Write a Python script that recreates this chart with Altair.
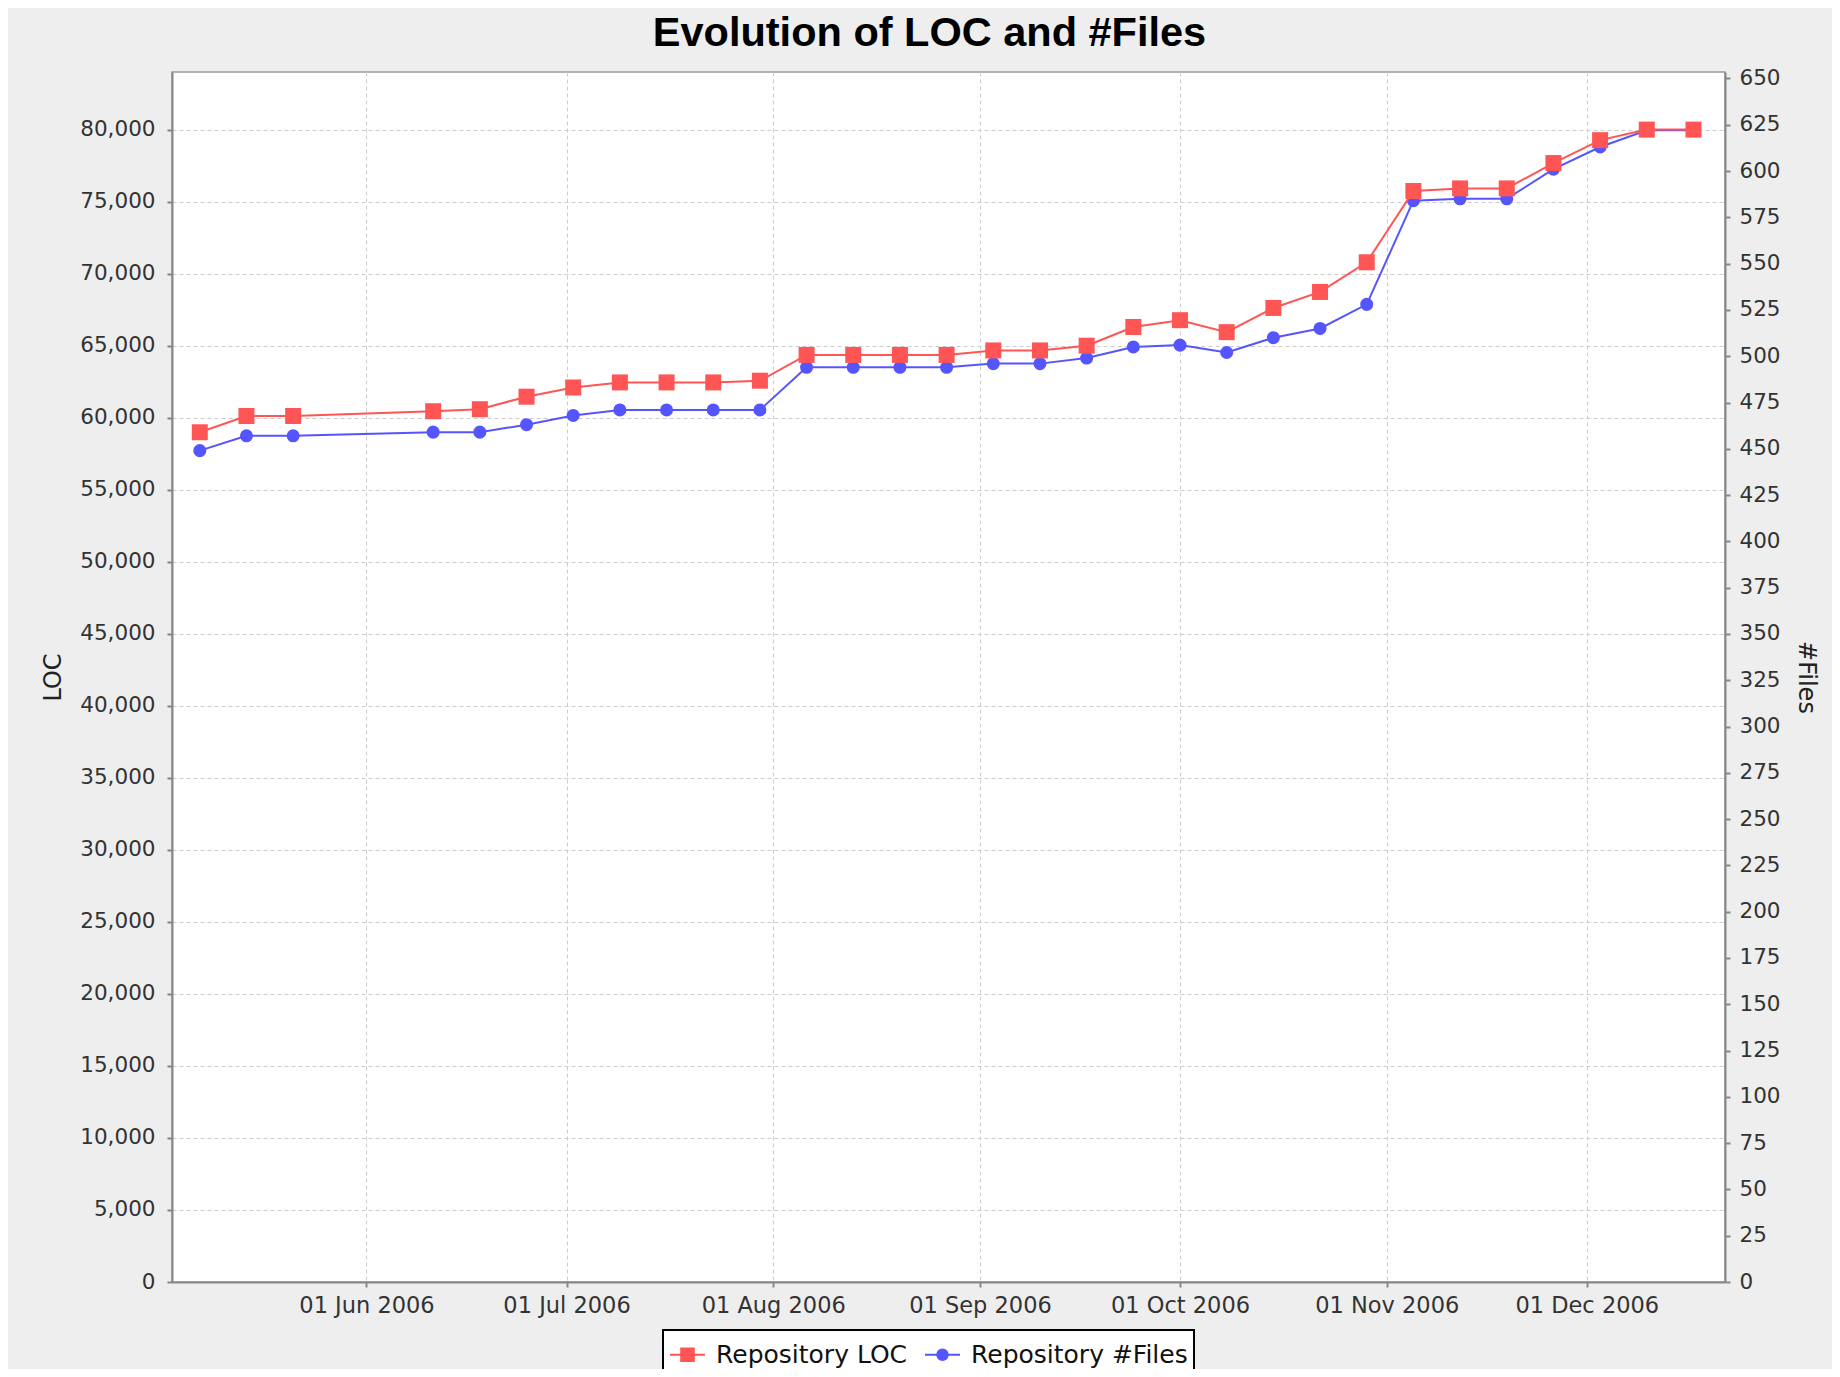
import altair as alt
import pandas as pd

# ---------------- data ----------------
dates = [
    "2006-05-07", "2006-05-14", "2006-05-21", "2006-06-11", "2006-06-18",
    "2006-06-25", "2006-07-02", "2006-07-09", "2006-07-16", "2006-07-23",
    "2006-07-30", "2006-08-06", "2006-08-13", "2006-08-20", "2006-08-27",
    "2006-09-03", "2006-09-10", "2006-09-17", "2006-09-24", "2006-10-01",
    "2006-10-08", "2006-10-15", "2006-10-22", "2006-10-29", "2006-11-05",
    "2006-11-12", "2006-11-19", "2006-11-26", "2006-12-03", "2006-12-10",
    "2006-12-17",
]
loc_values = [
    58990, 60120, 60120, 60450, 60590, 61460, 62100, 62450, 62450, 62450,
    62570, 64360, 64360, 64360, 64360, 64670, 64670, 65000, 66300, 66770,
    65940, 67620, 68730, 70790, 75740, 75920, 75920, 77680, 79270, 80000,
    80000,
]
file_values = [
    449, 457, 457, 459, 459, 463, 468, 471, 471, 471,
    471, 494, 494, 494, 494, 496, 496, 499, 505, 506,
    502, 510, 515, 528, 584, 585, 585, 601, 613, 622,
    622,
]
series_names = ["Repository LOC", "Repository #Files"]
series_colors = ["#FF5555", "#5555FF"]
loc_ticks = list(range(0, 80001, 5000))
file_ticks = list(range(0, 651, 25))
month_ticks = [6, 7, 8, 9, 10, 11, 12]

df = pd.DataFrame({
    "date": [d + "T00:00:00" for d in dates],
    "loc": loc_values,
    "files": file_values,
})
legend_df = pd.DataFrame({"series": series_names})

FONT = "DejaVu Sans"
W, H = 1553, 1210

x_enc = alt.X(
    "date:T",
    scale=alt.Scale(
        domain=[
            alt.DateTime(year=2006, month=5, date=2, hours=20),
            alt.DateTime(year=2006, month=12, date=21, hours=17, minutes=30),
        ],
        nice=False,
    ),
    axis=alt.Axis(
        title=None,
        values=[alt.DateTime(year=2006, month=m, date=1) for m in month_ticks],
        format="%d %b %Y",
        grid=True,
        labelPadding=7,
        labelFontSize=22.5,
        labelFlush=False,
    ),
)

loc_axis = alt.Axis(
    orient="left", values=loc_ticks, format=",d", grid=True,
    title="LOC", titleX=-119, titleY=H / 2, titleAngle=270,
    titleBaseline="middle", titleAlign="center", labelPadding=12,
)
files_axis = alt.Axis(
    orient="right", values=file_ticks, format="d", grid=False,
    title="#Files", titleX=80, titleY=H / 2, titleAngle=90,
    titleBaseline="middle", titleAlign="center", labelPadding=9,
)
loc_y = alt.Y("loc:Q", scale=alt.Scale(domain=[0, 84000], nice=False), axis=loc_axis)
files_y = alt.Y("files:Q", scale=alt.Scale(domain=[0, 653.5], nice=False), axis=files_axis)

# legend symbols: a short line with the marker on it
sq_path = "M-1,0L1,0 M-0.36,-0.36L0.36,-0.36L0.36,0.36L-0.36,0.36Z"
ci_path = "M-1,0L1,0 M-0.3,0A0.3,0.3 0 1,0 0.3,0A0.3,0.3 0 1,0 -0.3,0Z"

legend = alt.Legend(
    title=None,
    orient="none",
    legendX=491,
    legendY=1258,
    direction="horizontal",
    labelFont=FONT,
    labelFontSize=25,
    labelColor="#111111",
    labelLimit=400,
    labelOffset=10,
    columnPadding=13,
    padding=6,
    symbolSize=1225,
    symbolStrokeWidth=2,
    strokeColor="black",
    fillColor="white",
)

legend_layer = (
    alt.Chart(legend_df)
    .transform_filter("false")
    .mark_point(filled=True, opacity=1, size=1225, strokeWidth=2)
    .encode(
        fill=alt.Fill("series:N", scale=alt.Scale(domain=series_names, range=series_colors), legend=legend),
        stroke=alt.Stroke("series:N", scale=alt.Scale(domain=series_names, range=series_colors), legend=legend),
        shape=alt.Shape("series:N", scale=alt.Scale(domain=series_names, range=[sq_path, ci_path]), legend=legend),
    )
)

base = alt.Chart(df)

files_layer = alt.layer(
    base.mark_line(color=series_colors[1], strokeWidth=2).encode(x=x_enc, y=files_y),
    base.mark_point(shape="circle", filled=True, size=170, opacity=1, color=series_colors[1]).encode(
        x=x_enc, y=files_y
    ),
)
loc_layer = alt.layer(
    base.mark_line(color=series_colors[0], strokeWidth=2).encode(x=x_enc, y=loc_y),
    base.mark_point(shape="square", filled=True, size=256, opacity=1, color=series_colors[0]).encode(
        x=x_enc, y=loc_y
    ),
)

try:
    alt.LegendConfig(strokeWidth=2).to_dict()
    legend_cfg = {"strokeWidth": 2}
except Exception:
    legend_cfg = {}

chart = (
    alt.layer(files_layer, loc_layer, legend_layer)
    .resolve_scale(y="independent")
    .properties(
        width=W,
        height=H,
        autosize=alt.AutoSizeParams(type="none"),
        padding={"left": 164, "top": 64, "right": 107, "bottom": 87},
        background="#EEEEEE",
        view=alt.ViewBackground(fill="white", stroke="#999999", strokeWidth=1.5),
        title=alt.TitleParams(
            "Evolution of LOC and #Files",
            font="Liberation Sans",
            fontSize=41.5,
            fontWeight="bold",
            color="black",
            anchor="middle",
            dx=-19,
            dy=47,
            offset=27,
            baseline="alphabetic",
        ),
    )
    .configure_view(stroke="#999999", strokeWidth=1.5, fill="white")
    .configure_axis(
        labelFont=FONT,
        labelFontSize=21.5,
        labelColor="#333333",
        titleFont=FONT,
        titleFontSize=24,
        titleFontWeight="normal",
        titleColor="#222222",
        domainColor="#888888",
        domainWidth=2,
        tickColor="#888888",
        tickWidth=2,
        tickSize=5,
        gridColor="#CCCCCC",
        gridDash=[4, 3],
        gridWidth=1,
    )
)
if legend_cfg:
    chart = chart.configure_legend(**legend_cfg)

chart.save("out.html", embed_options={"renderer": "svg", "actions": False})
